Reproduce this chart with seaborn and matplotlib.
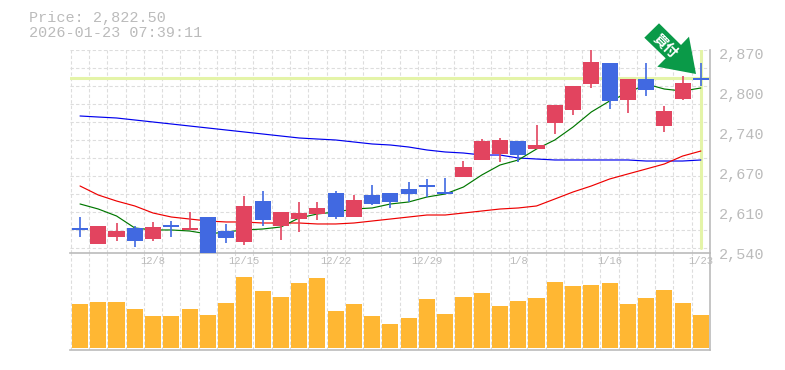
import numpy as np
import seaborn as sns
import matplotlib
matplotlib.use("Agg")
import matplotlib.pyplot as plt
from matplotlib.patches import Polygon

# values
opens = [2581.3, 2554.9, 2566.4, 2581.3, 2563.1, 2586.2, 2578.0, 2599.4, 2576.3, 2558.2, 2625.8, 2584.6,
         2596.1, 2604.4, 2639.0, 2599.4, 2635.7, 2639.0, 2645.6, 2652.2, 2640.7, 2665.4, 2693.5, 2703.4,
         2724.8, 2711.6, 2754.5, 2776.0, 2818.9, 2853.5, 2792.5, 2827.1, 2749.6, 2794.1, 2829.5]
closes = [2578.0, 2584.6, 2576.3, 2559.8, 2582.9, 2582.9, 2581.3, 2540.0, 2564.8, 2617.6, 2594.5, 2607.7,
          2606.0, 2614.3, 2599.4, 2627.5, 2620.9, 2624.2, 2637.4, 2648.9, 2638.0, 2681.9, 2724.8, 2726.5,
          2701.7, 2718.2, 2784.2, 2815.6, 2855.2, 2790.8, 2827.1, 2809.0, 2774.3, 2820.5, 2826.2]
highs = [2599.4, 2584.6, 2589.5, 2584.6, 2591.2, 2592.8, 2607.7, 2599.4, 2587.9, 2634.1, 2642.3, 2607.7,
         2624.2, 2624.2, 2642.3, 2635.7, 2652.2, 2639.0, 2657.2, 2662.1, 2663.8, 2691.8, 2728.1, 2729.8,
         2724.8, 2751.2, 2784.2, 2815.6, 2875.0, 2853.5, 2827.1, 2853.5, 2782.6, 2832.0, 2853.5]
lows = [2566.4, 2554.9, 2559.8, 2549.9, 2559.8, 2566.4, 2578.0, 2540.0, 2556.5, 2553.2, 2584.6, 2561.5,
        2574.7, 2594.5, 2596.1, 2599.4, 2619.2, 2614.3, 2624.2, 2632.4, 2638.0, 2665.4, 2693.5, 2690.2,
        2690.2, 2711.6, 2736.4, 2767.7, 2812.3, 2777.6, 2771.0, 2799.1, 2739.7, 2792.5, 2815.6]
ma_green = [2620.9, 2612.6, 2601.1, 2581.3, 2578.0, 2578.0, 2576.3, 2571.4, 2574.7, 2578.0, 2579.6, 2582.9,
            2597.8, 2604.4, 2607.7, 2612.6, 2614.3, 2620.9, 2624.2, 2632.4, 2637.4, 2648.9, 2668.7, 2685.2,
            2693.5, 2711.6, 2726.5, 2747.9, 2772.7, 2790.8, 2804.0, 2818.9, 2810.6, 2807.3, 2812.3]
ma_red = [2650.6, 2635.7, 2625.8, 2617.6, 2606.0, 2599.4, 2596.1, 2592.8, 2591.2, 2591.2, 2589.5, 2589.5,
          2589.5, 2587.9, 2587.9, 2589.5, 2592.8, 2596.1, 2599.4, 2602.7, 2602.7, 2606.0, 2609.3, 2612.6,
          2614.3, 2617.6, 2629.1, 2640.7, 2650.6, 2662.1, 2670.4, 2678.6, 2686.9, 2700.0, 2708.3]
ma_blue = [2766.1, 2764.4, 2762.8, 2759.5, 2756.2, 2752.9, 2749.6, 2746.3, 2743.0, 2739.7, 2736.4, 2733.1,
           2729.8, 2728.1, 2726.5, 2723.2, 2719.9, 2718.2, 2714.9, 2710.0, 2706.7, 2705.0, 2701.7, 2701.7,
           2696.8, 2695.1, 2693.5, 2693.5, 2693.5, 2693.5, 2693.5, 2691.8, 2691.8, 2691.8, 2693.5]
volumes = [44, 46, 46, 39, 32, 32, 39, 33, 45, 71, 57, 51, 65, 70, 37, 44, 32, 24,
           30, 49, 34, 51, 55, 42, 47, 50, 66, 62, 63, 65, 44, 50, 58, 45, 33]
price_ticks = [2540, 2606, 2672, 2738, 2804, 2870]
price_labels = ["2,540", "2,610", "2,670", "2,740", "2,800", "2,870"]
date_pos = [4, 9, 14, 19, 24, 29, 34]
date_labels = ["12/8", "12/15", "12/22", "12/29", "1/8", "1/16", "1/23"]
h_grid = [2548, 2577.7, 2607.4, 2637.1, 2666.8, 2696.5, 2726.2, 2755.9, 2785.6, 2815.3, 2845, 2874.7]

RED = "#e2445f"
BLUE = "#4169e1"
GREY = "#bbbbbb"
GRID = "#dddddd"
PALE = "#e4f4a8"
DASH = (0, (3, 2))
W, H = 785, 370

sns.set_theme(style="white")
plt.rcParams["font.family"] = ["Liberation Mono", "DejaVu Sans"]

fig = plt.figure(figsize=(W / 100, H / 100), dpi=100)
ax_vol = fig.add_axes([70 / W, 1 - 350 / H, 640 / W, 97 / H])
ax = fig.add_axes([70 / W, 1 - 253 / H, 640 / W, 203 / H], sharex=ax_vol)
ax.patch.set_alpha(0)

idx = np.arange(len(opens))

# volume
sns.barplot(x=idx, y=volumes, native_scale=True, width=0.88, color="#ffb733", saturation=1,
            linewidth=0, ax=ax_vol, zorder=3)
ax_vol.set_ylim(-2, 95)

# pale lines at the last price
ax.axhline(2828.8, color=PALE, lw=2.2, zorder=1)
ax.axvline(idx[-1], ymin=0.025, color=PALE, lw=2.2, zorder=1)

# moving averages
for vals, col in [(ma_blue, "#0000ee"), (ma_red, "#ee0000"), (ma_green, "#007700")]:
    sns.lineplot(x=idx, y=vals, color=col, lw=0.85, ax=ax, zorder=2)

# candles
colors = [RED if c > o else BLUE for o, c in zip(opens, closes)]
ax.vlines(idx, lows, highs, colors=colors, lw=1.2, zorder=3)
heights = np.abs(np.array(closes) - np.array(opens))
bottoms = np.minimum(opens, closes)
ax.bar(idx, heights, bottom=bottoms, width=0.88, color=colors, linewidth=0, zorder=4)

ax_vol.set_xlim(-0.548, 34.5)
ax.set_ylim(2540, 2875)

ax.set_xticks(date_pos, date_labels)
ax.set_yticks(price_ticks, price_labels)
ax.set_yticks(h_grid, minor=True)
ax.yaxis.tick_right()
for a in (ax, ax_vol):
    a.set_xticks(list(idx[:-1] + 0.5) + [-0.5], minor=True)
    a.grid(False, which="major")
    a.grid(True, which="minor", axis="x", color=GRID, ls=DASH, lw=0.8, zorder=0)
    a.set_axisbelow(True)
    a.tick_params(which="both", length=0)
    a.set_xlabel("")
    a.set_ylabel("")
    a.spines["left"].set_visible(False)
    a.spines["top"].set_visible(False)
    a.spines["right"].set_color(GREY)
    a.spines["bottom"].set_color(GREY)
    a.spines["right"].set_linewidth(1.2)
    a.spines["bottom"].set_linewidth(1.2)
ax.grid(True, which="minor", axis="y", color=GRID, ls=DASH, lw=0.8, zorder=0)
ax.tick_params(axis="y", which="major", pad=6.5, labelsize=10.9, labelcolor=GREY)
ax.tick_params(axis="x", which="major", pad=2.2, labelsize=7.6, labelcolor=GREY)
for lab in ax.get_yticklabels():
    lab.set_verticalalignment("center_baseline")
ax_vol.tick_params(axis="x", labelbottom=False)
ax_vol.set_yticks([])

fig.text(29 / W, 1 - 18 / H, "Price: 2,822.50", color=GREY, fontsize=10.9, va="center")
fig.text(29 / W, 1 - 33 / H, "2026-01-23 07:39:11", color=GREY, fontsize=10.9, va="center")

# green arrow, outline in picture pixels
arrow_x = [659, 681, 689, 696, 657.3, 665.7, 644.3]
arrow_y = [23.3, 45, 36.7, 74, 66.7, 58.3, 37.7]
pts = [(x / W, 1 - y / H) for x, y in zip(arrow_x, arrow_y)]
fig.add_artist(Polygon(pts, closed=True, transform=fig.transFigure, color="#0a9a48", lw=0, zorder=5))
fig.text(665.5 / W, 1 - 45.5 / H, "買付", color="white", fontsize=10, fontweight="bold", rotation=-45,
         ha="center", va="center", family=["Noto Sans CJK JP", "DejaVu Sans"], zorder=6)

fig.savefig("out.png", dpi=100)
